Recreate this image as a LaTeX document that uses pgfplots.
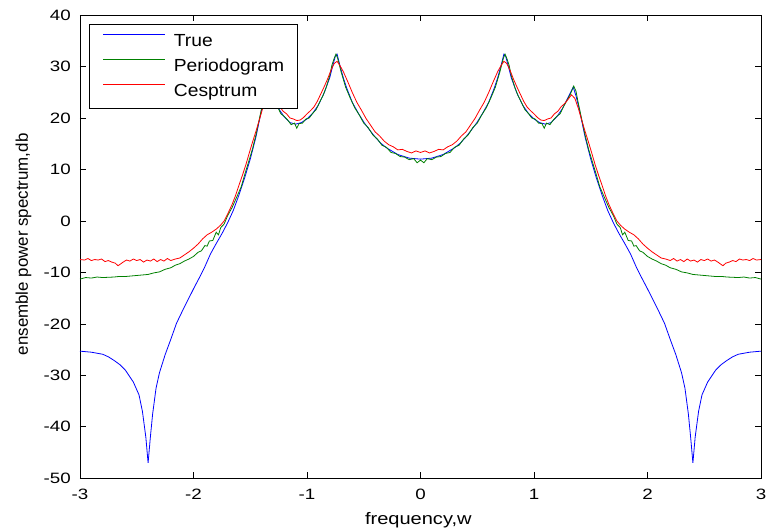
\documentclass[border=0pt]{standalone}
\usepackage{pgfplots}
\pgfplotsset{compat=1.18}
\usepackage{fontspec}
\setmainfont{Liberation Sans}
\newfontfamily\tickfont{Liberation Sans}[FakeStretch=1.25]
\newfontfamily\xlabfont{Liberation Sans}[FakeStretch=1.2]
\newfontfamily\legfont{Liberation Sans}[FakeStretch=1.1]
\definecolor{mblue}{rgb}{0,0,1}
\definecolor{mgreen}{rgb}{0,0.5,0}
\definecolor{mred}{rgb}{1,0,0}
\begin{document}
\begin{tikzpicture}
\begin{axis}[
  at={(0pt,0pt)}, anchor=south west,
  scale only axis, width=681pt, height=463.3pt,
  xmin=-3, xmax=3, ymin=-50, ymax=40,
  xtick={-3,-2,-1,0,1,2,3},
  ytick={-50,-40,-30,-20,-10,0,10,20,30,40},
  tick align=inside, major tick length=6pt,
  tick style={black, line width=0.7pt},
  axis line style={black, line width=0.8pt},
  /pgf/number format/assume math mode=true,
  xticklabel style={font=\tickfont\fontsize{15}{18}\selectfont, inner sep=0pt, anchor=north, yshift=-11pt},
  yticklabel style={font=\tickfont\fontsize{15}{18}\selectfont, inner sep=0pt, anchor=east, xshift=-9pt},
  xlabel={frequency,w},
  xlabel style={font=\xlabfont\fontsize{16.7}{20}\selectfont, at={(axis description cs:0.4968,-0.0993)}, anchor=base},
  ylabel={ensemble power spectrum,db},
  ylabel style={font=\fontsize{16.9}{20}\selectfont, at={(axis description cs:-0.0828,0.505)}, anchor=center, rotate=0},
  legend cell align=left,
  legend image code/.code={\draw[#1, line width=0.8pt] (0pt,6.6pt) -- (61.6pt,6.6pt);},
  legend style={at={(axis description cs:0,1)}, anchor=north west, xshift=9pt, yshift=-9pt,
    draw=black, line width=0.8pt, fill=white,
    inner xsep=13.7pt, inner ysep=7pt, row sep=5.4pt, column sep=8.4pt,
    font=\legfont\fontsize{17.5}{21}\selectfont,
    nodes={inner sep=0pt, text height=14.6pt, text depth=5pt}},
]
\addplot[mblue, line width=0.8pt] table {
x y
-3.0 -25.3
-2.9 -25.5
-2.8 -25.9
-2.75 -26.4
-2.7 -27.1
-2.65 -27.9
-2.6 -29.0
-2.53 -31.3
-2.48 -33.8
-2.45 -37.0
-2.42 -42.0
-2.40 -47.0
-2.38 -42.0
-2.36 -37.5
-2.33 -32.5
-2.3 -29.5
-2.25 -26.0
-2.2 -23.0
-2.15 -19.9
-2.1 -17.6
-2.05 -15.4
-2.0 -13.2
-1.95 -11.1
-1.9 -8.9
-1.85 -6.4
-1.8 -4.4
-1.75 -2.5
-1.7 -0.4
-1.65 2.0
-1.6 5.0
-1.55 8.3
-1.5 12.0
-1.45 16.3
-1.4 21.6
-1.37 24.3
-1.345 26.0
-1.3 24.0
-1.25 21.8
-1.2 20.2
-1.15 19.1
-1.1 18.8
-1.05 19.1
-1.0 19.8
-0.95 20.9
-0.9 22.5
-0.85 24.8
-0.8 27.8
-0.77 30.4
-0.75 32.0
-0.735 32.4
-0.71 30.2
-0.68 27.8
-0.65 25.8
-0.6 23.0
-0.55 21.0
-0.5 19.2
-0.45 17.7
-0.4 16.3
-0.35 15.1
-0.3 14.2
-0.2 12.9
-0.1 12.2
0 12.0
0.1 12.2
0.2 12.9
0.3 14.2
0.35 15.1
0.4 16.3
0.45 17.7
0.5 19.2
0.55 21.0
0.6 23.0
0.65 25.8
0.68 27.8
0.71 30.2
0.735 32.4
0.75 32.0
0.77 30.4
0.8 27.8
0.85 24.8
0.9 22.5
0.95 20.9
1.0 19.8
1.05 19.1
1.1 18.8
1.15 19.1
1.2 20.2
1.25 21.8
1.3 24.0
1.345 26.0
1.37 24.3
1.4 21.6
1.45 16.3
1.5 12.0
1.55 8.3
1.6 5.0
1.65 2.0
1.7 -0.4
1.75 -2.5
1.8 -4.4
1.85 -6.4
1.9 -8.9
1.95 -11.1
2.0 -13.2
2.05 -15.4
2.1 -17.6
2.15 -19.9
2.2 -23.0
2.25 -26.0
2.3 -29.5
2.33 -32.5
2.36 -37.5
2.38 -42.0
2.40 -47.0
2.42 -42.0
2.45 -37.0
2.48 -33.8
2.53 -31.3
2.6 -29.0
2.65 -27.9
2.7 -27.1
2.75 -26.4
2.8 -25.9
2.9 -25.5
3.0 -25.3
};
\addlegendentry{True}
\addplot[mgreen, line width=0.8pt] table {
x y
-3.0 -11.3
-2.95 -11.0
-2.9 -11.1
-2.85 -10.9
-2.8 -11.0
-2.7 -10.9
-2.66 -10.8
-2.6 -10.8
-2.5 -10.6
-2.4 -10.4
-2.35 -10.1
-2.3 -9.9
-2.25 -9.4
-2.2 -9.1
-2.16 -8.6
-2.12 -8.3
-2.08 -7.8
-2.04 -7.4
-2.0 -6.9
-1.96 -6.1
-1.93 -5.8
-1.9 -4.8
-1.88 -4.9
-1.86 -3.9
-1.83 -3.8
-1.8 -2.2
-1.78 -2.7
-1.76 -1.3
-1.73 -0.6
-1.7 1.0
-1.66 2.6
-1.62 4.6
-1.58 6.6
-1.55 8.9
-1.51 11.8
-1.48 14.0
-1.45 16.7
-1.42 19.8
-1.39 22.9
-1.37 25.2
-1.35 26.2
-1.32 24.6
-1.29 23.4
-1.26 22.2
-1.23 20.8
-1.2 20.3
-1.17 19.6
-1.14 18.7
-1.11 19.0
-1.09 18.0
-1.07 18.9
-1.04 19.0
-1.01 19.8
-0.98 20.0
-0.95 20.9
-0.92 21.6
-0.89 23.0
-0.86 24.3
-0.83 26.0
-0.8 28.2
-0.78 30.3
-0.76 31.6
-0.745 32.4
-0.73 31.6
-0.7 29.0
-0.66 26.0
-0.62 23.9
-0.58 22.0
-0.54 20.6
-0.5 19.0
-0.46 18.1
-0.42 16.7
-0.38 15.9
-0.34 14.7
-0.3 14.3
-0.26 13.3
-0.22 13.1
-0.18 12.5
-0.14 12.4
-0.1 11.9
-0.06 12.1
-0.03 11.3
0 11.8
0.03 11.3
0.06 12.1
0.1 11.9
0.14 12.4
0.18 12.5
0.22 13.1
0.26 13.3
0.3 14.3
0.34 14.7
0.38 15.9
0.42 16.7
0.46 18.1
0.5 19.0
0.54 20.6
0.58 22.0
0.62 23.9
0.66 26.0
0.7 29.0
0.73 31.6
0.745 32.4
0.76 31.6
0.78 30.3
0.8 28.2
0.83 26.0
0.86 24.3
0.89 23.0
0.92 21.6
0.95 20.9
0.98 20.0
1.01 19.8
1.04 19.0
1.07 18.9
1.09 18.0
1.11 19.0
1.14 18.7
1.17 19.6
1.2 20.3
1.23 20.8
1.26 22.2
1.29 23.4
1.32 24.6
1.35 26.2
1.37 25.2
1.39 22.9
1.42 19.8
1.45 16.7
1.48 14.0
1.51 11.8
1.55 8.9
1.58 6.6
1.62 4.6
1.66 2.6
1.7 1.0
1.73 -0.6
1.76 -1.3
1.78 -2.7
1.8 -2.2
1.83 -3.8
1.86 -3.9
1.88 -4.9
1.9 -4.8
1.93 -5.8
1.96 -6.1
2.0 -6.9
2.04 -7.4
2.08 -7.8
2.12 -8.3
2.16 -8.6
2.2 -9.1
2.25 -9.4
2.3 -9.9
2.35 -10.1
2.4 -10.4
2.5 -10.6
2.6 -10.8
2.66 -10.8
2.7 -10.9
2.8 -11.0
2.85 -10.9
2.9 -11.1
2.95 -11.0
3.0 -11.3
};
\addlegendentry{Periodogram}
\addplot[mred, line width=0.8pt] table {
x y
-3.0 -7.5
-2.96 -7.6
-2.93 -7.3
-2.9 -7.7
-2.87 -7.5
-2.84 -7.6
-2.81 -7.4
-2.78 -7.9
-2.75 -7.7
-2.72 -8.0
-2.69 -8.2
-2.665 -8.7
-2.645 -8.4
-2.62 -8.0
-2.59 -7.6
-2.56 -7.8
-2.53 -7.4
-2.5 -7.7
-2.47 -7.5
-2.44 -8.0
-2.41 -7.6
-2.38 -7.8
-2.35 -7.4
-2.32 -7.9
-2.29 -7.5
-2.26 -7.8
-2.23 -7.3
-2.2 -7.7
-2.16 -7.4
-2.12 -7.2
-2.08 -6.6
-2.04 -6.0
-2.0 -5.3
-1.96 -4.5
-1.92 -3.5
-1.88 -2.7
-1.84 -2.2
-1.8 -1.6
-1.76 -0.8
-1.73 0.0
-1.7 1.3
-1.66 3.2
-1.63 4.9
-1.6 6.9
-1.57 8.8
-1.54 10.8
-1.51 13.1
-1.48 15.3
-1.45 17.4
-1.42 19.6
-1.39 21.9
-1.36 23.8
-1.33 24.5
-1.3 23.6
-1.27 22.8
-1.24 22.2
-1.21 21.3
-1.18 20.8
-1.15 20.0
-1.12 19.8
-1.09 19.5
-1.06 19.6
-1.03 20.1
-1.0 20.8
-0.97 21.4
-0.94 22.1
-0.91 23.2
-0.88 24.6
-0.85 26.0
-0.82 27.5
-0.79 29.2
-0.76 30.6
-0.735 31.0
-0.71 30.2
-0.68 29.0
-0.64 27.0
-0.6 24.9
-0.56 23.0
-0.52 21.5
-0.48 19.9
-0.44 18.6
-0.4 17.3
-0.36 16.5
-0.32 15.5
-0.28 14.8
-0.24 14.4
-0.2 13.8
-0.16 13.9
-0.12 13.5
-0.08 13.2
-0.04 13.6
0 13.3
0.04 13.6
0.08 13.2
0.12 13.5
0.16 13.9
0.2 13.8
0.24 14.4
0.28 14.8
0.32 15.5
0.36 16.5
0.4 17.3
0.44 18.6
0.48 19.9
0.52 21.5
0.56 23.0
0.6 24.9
0.64 27.0
0.68 29.0
0.71 30.2
0.735 31.0
0.76 30.6
0.79 29.2
0.82 27.5
0.85 26.0
0.88 24.6
0.91 23.2
0.94 22.1
0.97 21.4
1.0 20.8
1.03 20.1
1.06 19.6
1.09 19.5
1.12 19.8
1.15 20.0
1.18 20.8
1.21 21.3
1.24 22.2
1.27 22.8
1.3 23.6
1.33 24.5
1.36 23.8
1.39 21.9
1.42 19.6
1.45 17.4
1.48 15.3
1.51 13.1
1.54 10.8
1.57 8.8
1.6 6.9
1.63 4.9
1.66 3.2
1.7 1.3
1.73 0.0
1.76 -0.8
1.8 -1.6
1.84 -2.2
1.88 -2.7
1.92 -3.5
1.96 -4.5
2.0 -5.3
2.04 -6.0
2.08 -6.6
2.12 -7.2
2.16 -7.4
2.2 -7.7
2.23 -7.3
2.26 -7.8
2.29 -7.5
2.32 -7.9
2.35 -7.4
2.38 -7.8
2.41 -7.6
2.44 -8.0
2.47 -7.5
2.5 -7.7
2.53 -7.4
2.56 -7.8
2.59 -7.6
2.62 -8.0
2.645 -8.4
2.665 -8.7
2.69 -8.2
2.72 -8.0
2.75 -7.7
2.78 -7.9
2.81 -7.4
2.84 -7.6
2.87 -7.5
2.9 -7.7
2.93 -7.3
2.96 -7.6
3.0 -7.5
};
\addlegendentry{Cesptrum}
\end{axis}
\pgfresetboundingbox
\path[use as bounding box] (-80pt,-52.7pt) rectangle (686pt,478.3pt);
\end{tikzpicture}
\end{document}
